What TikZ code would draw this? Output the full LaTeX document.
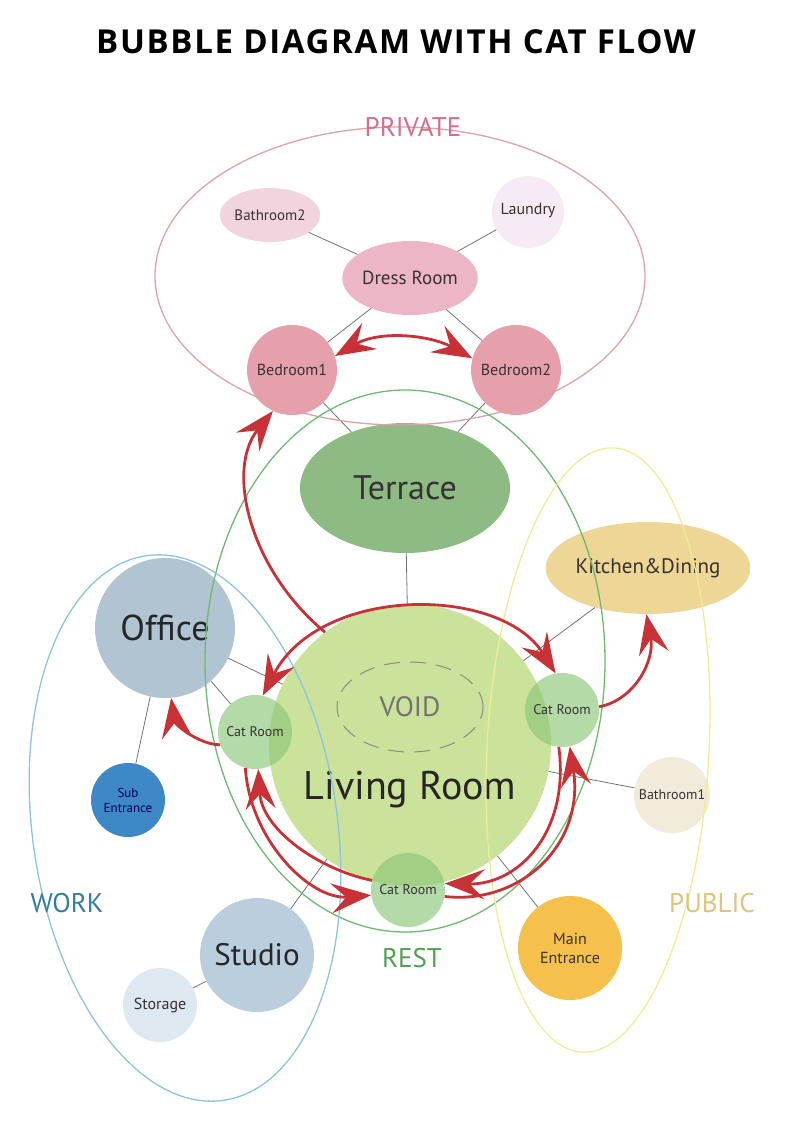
\documentclass[tikz,border=0pt]{standalone}
\usepackage{fontspec}
\setmainfont{PT Sans}
\newfontfamily\titlefont{Open Sans}[LetterSpace=5]
\usetikzlibrary{shapes.geometric,arrows.meta,positioning}

% zone outlines and labels
\definecolor{privline}{RGB}{222,160,170}
\definecolor{privtext}{RGB}{214,110,140}
\definecolor{restline}{RGB}{110,185,110}
\definecolor{resttext}{RGB}{80,160,80}
\definecolor{publine}{RGB}{240,236,150}
\definecolor{pubtext}{RGB}{225,195,120}
\definecolor{workline}{RGB}{140,195,225}
\definecolor{worktext}{RGB}{50,125,160}
% connectors
\definecolor{flowred}{RGB}{200,50,55}
\definecolor{linkgray}{RGB}{115,115,115}
\definecolor{roomtext}{RGB}{55,50,50}
% room fills
\definecolor{bathpink}{RGB}{242,212,222}
\definecolor{laundrypink}{RGB}{246,234,244}
\definecolor{dresspink}{RGB}{236,182,198}
\definecolor{bedpink}{RGB}{230,160,172}
\definecolor{terracegreen}{RGB}{142,186,132}
\definecolor{livinggreen}{RGB}{203,226,155}
\definecolor{catgreen}{RGB}{140,198,120}
\definecolor{kitchenyellow}{RGB}{238,214,150}
\definecolor{bathcream}{RGB}{240,235,218}
\definecolor{entranceorange}{RGB}{245,192,75}
\definecolor{officeblue}{RGB}{176,196,210}
\definecolor{subblue}{RGB}{62,136,200}
\definecolor{studioblue}{RGB}{186,206,222}
\definecolor{storageblue}{RGB}{222,232,240}

\begin{document}
\begin{tikzpicture}[
    x=1pt, y=-1pt,
    cattip/.tip={Stealth[length=40pt,width=30pt,inset=15pt]},
    room/.style={circle, inner sep=0pt, align=center, text=roomtext},
    oval/.style={ellipse, inner sep=0pt, align=center, text=roomtext},
    catroom/.style={room, fill=catgreen, fill opacity=0.65, text opacity=1, minimum size=74, font=\fontsize{14}{14}\selectfont},
    zone/.style={ellipse, draw, line width=1.3pt, inner sep=0pt},
    zonelabel/.style={font=\fontsize{27}{27}\selectfont},
    link/.style={draw=linkgray, line width=0.8pt},
    flow/.style={draw=flowred, line width=2.8pt, -cattip},
    twoway/.style={draw=flowred, line width=2.8pt, cattip-cattip}
]
\useasboundingbox (0,0) rectangle (800,1123);

% title
\node[font=\titlefont\bfseries\fontsize{33}{33}\selectfont] (title) at (396,42) {BUBBLE DIAGRAM WITH CAT FLOW};

% private rooms
\node[oval, fill=bathpink, minimum width=96, minimum height=54, font=\fontsize{15}{15}\selectfont] (bath2) at (270,215) {Bathroom2};
\node[room, fill=laundrypink, minimum size=72, font=\fontsize{16}{16}\selectfont] (laundry) at (528,212) {\raisebox{6pt}{Laundry}};
\node[oval, fill=dresspink, minimum width=132, minimum height=74, font=\fontsize{19}{19}\selectfont] (dress) at (410,278) {Dress Room};
\node[room, fill=bedpink, minimum size=90, font=\fontsize{16}{16}\selectfont] (bed1) at (292,370) {Bedroom1};
\node[room, fill=bedpink, minimum size=90, font=\fontsize{16}{16}\selectfont] (bed2) at (516,370) {Bedroom2};

% rest
\node[oval, fill=terracegreen, minimum width=210, minimum height=130, font=\fontsize{34}{34}\selectfont, text=black!80] (terrace) at (405,488) {Terrace};
\node[room, fill=livinggreen, minimum size=282] (living) at (410,745) {};
\node[font=\fontsize{40}{40}\selectfont, text=black!85] (livinglabel) at (410,790) {Living Room};
\node[oval, draw=black!45, dash pattern=on 16pt off 10pt, line width=1pt, minimum width=146, minimum height=90, font=\fontsize{28}{28}\selectfont, text=black!55] (void) at (410,707) {VOID};
\node[catroom] (catL) at (255,732) {Cat Room};
\node[catroom] (catR) at (562,710) {Cat Room};
\node[catroom] (catB) at (408,890) {Cat Room};

% public
\node[oval, fill=kitchenyellow, minimum width=172, minimum height=92, font=\fontsize{21}{21}\selectfont] (kitchen) at (648,568) {Kitchen\&Dining};
\node[room, fill=bathcream, minimum size=76, font=\fontsize{14}{14}\selectfont] (bath1) at (672,795) {Bathroom1};
\node[room, fill=entranceorange, minimum size=104, font=\fontsize{16}{19}\selectfont] (mainent) at (570,948) {Main\\Entrance};

% work
\node[room, fill=officeblue, minimum size=140, font=\fontsize{36}{36}\selectfont, text=black!85] (office) at (165,628) {Office};
\node[room, fill=subblue, minimum size=74, font=\fontsize{13}{15}\selectfont, text=blue!30!black] (sub) at (128,800) {Sub\\Entrance};
\node[room, fill=studioblue, minimum size=114, font=\fontsize{31}{31}\selectfont, text=black!85] (studio) at (257,955) {Studio};
\node[room, fill=storageblue, minimum size=74, font=\fontsize{16}{16}\selectfont] (storage) at (160,1005) {Storage};

% links
\draw[link] (bath2) -- (dress);
\draw[link] (laundry) -- (dress);
\draw[link] (dress) -- (bed1);
\draw[link] (dress) -- (bed2);
\draw[link] (bed1) -- (terrace);
\draw[link] (bed2) -- (terrace);
\draw[link] (terrace) -- (living);
\draw[link] (office) -- (catL);
\draw[link] (office) -- (living);
\draw[link] (office) -- (sub);
\draw[link] (living) -- (studio);
\draw[link] (studio) -- (storage);
\draw[link] (living) -- (kitchen);
\draw[link] (living) -- (bath1);
\draw[link] (living) -- (mainent);

% zones
\node[zone, draw=privline, minimum width=490, minimum height=298] (private) at (400,276) {};
\node[zone, draw=restline, minimum width=400, minimum height=542] (rest) at (405,661) {};
\node[zone, draw=publine, minimum width=222, minimum height=605, rotate=-3] (public) at (598,750) {};
\node[zone, draw=workline, minimum width=305, minimum height=550, rotate=8] (work) at (185,828) {};
\node[zonelabel, text=privtext] (privlabel) at (413,127) {PRIVATE};
\node[zonelabel, text=resttext] (restlabel) at (412,958) {REST};
\node[zonelabel, text=pubtext] (publabel) at (712,903) {PUBLIC};
\node[zonelabel, text=worktext] (worklabel) at (67,903) {WORK};

% cat flow
\draw[twoway] (bed1.18) .. controls (380,330) and (430,335) .. (bed2.165);
\draw[flow] (living.127) .. controls (250,570) and (225,470) .. (bed1.245);
\draw[twoway] (catL.78) .. controls (320,585) and (500,585) .. (catR.100);
\draw[flow] (catL.200) .. controls (200,745) and (175,725) .. (office.275);
\draw[flow] (catB.165) .. controls (320,870) and (262,830) .. (catL.275);
\draw[flow] (catL.255) .. controls (250,840) and (310,900) .. (catB.188);
\draw[flow] (catR.265) .. controls (570,830) and (520,885) .. (catB.10);
\draw[flow] (catB.350) .. controls (520,905) and (585,845) .. (catR.282);
\draw[flow] (catR.5) .. controls (635,700) and (655,660) .. (kitchen.268);

\end{tikzpicture}
\end{document}
